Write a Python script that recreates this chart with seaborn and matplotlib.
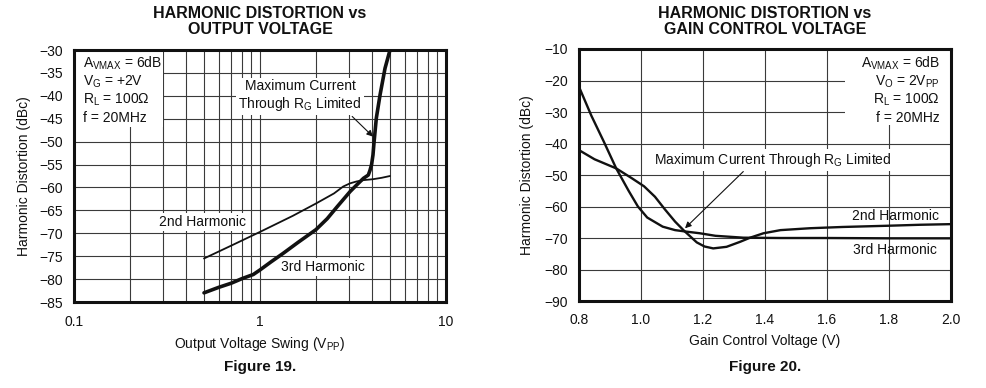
import numpy as np
import pandas as pd
import matplotlib
matplotlib.use("Agg")
import matplotlib.pyplot as plt
from matplotlib.patches import Rectangle
import seaborn as sns
from matplotlib.ticker import FixedLocator, NullFormatter

# ---------------- data: Figure 19 (vs output voltage) ----------------
ov_2nd_v = [0.5, 0.7, 1.0, 1.5, 2.0, 2.5, 2.8, 3.05, 3.3, 3.6, 4.05, 4.5, 5.0]
ov_2nd_d = [-75.5, -72.7, -69.7, -66.2, -63.5, -61.3, -59.8, -59.1, -58.7, -58.4, -58.2, -57.9, -57.5]

ov_3rd_v = [0.5, 0.6, 0.7, 0.8, 0.92, 1.0, 1.15, 1.33, 1.6, 2.0, 2.3, 2.6, 3.05,
            3.3, 3.6, 3.82, 3.9, 3.98, 4.05, 4.1, 4.22, 4.42, 4.7, 5.0]
ov_3rd_d = [-83.0, -81.8, -80.9, -79.9, -79.0, -78.0, -76.2, -74.4, -72.0, -69.2, -66.8, -64.2, -60.9,
            -59.5, -58.0, -57.3, -56.3, -55.0, -52.9, -50.3, -44.9, -39.8, -34.0, -30.0]

ov_xticks = [0.1, 1, 10]
ov_xticklabels = ["0.1", "1", "10"]
ov_yticks = list(range(-85, -29, 5))

# ---------------- data: Figure 20 (vs gain control voltage) ----------------
gc_2nd_v = [0.80, 0.85, 0.92, 0.97, 1.01, 1.045, 1.077, 1.11, 1.14, 1.18, 1.205, 1.233,
            1.276, 1.32, 1.352, 1.395, 1.45, 1.545, 1.65, 1.80, 1.90, 2.00]
gc_2nd_d = [-42.1, -45.0, -47.9, -51.0, -53.6, -56.9, -60.9, -64.8, -67.8, -71.4, -72.7, -73.3,
            -72.8, -71.2, -69.9, -68.5, -67.5, -66.9, -66.5, -66.1, -65.8, -65.6]

gc_3rd_v = [0.80, 0.84, 0.88, 0.92, 0.96, 0.99, 1.02, 1.07, 1.11, 1.14, 1.19, 1.24, 1.33,
            1.45, 1.60, 1.80, 2.00]
gc_3rd_d = [-22.0, -31.2, -39.4, -47.9, -55.0, -60.0, -63.5, -66.4, -67.5, -67.9, -68.5, -69.3, -69.9,
            -70.0, -70.0, -70.1, -70.1]

gc_xticks = [0.8, 1.0, 1.2, 1.4, 1.6, 1.8, 2.0]
gc_yticks = list(range(-90, -9, 10))

# ---------------- style ----------------
sns.set_theme(style="white")
plt.rcParams['font.family'] = ['Liberation Sans', 'DejaVu Sans']
plt.rcParams['axes.unicode_minus'] = True

W, H = 987, 388
fig = plt.figure(figsize=(W / 100, H / 100), dpi=100)


def pos(l, t, r, b):
    return [l / W, 1 - b / H, (r - l) / W, (b - t) / H]


def fx(px):
    return px / W


def fy(py):
    return 1 - py / H


ax1 = fig.add_axes(pos(74, 50, 446, 302))
ax2 = fig.add_axes(pos(579, 49, 951, 301))

INK = '#111111'
GRID = '#3a3a3a'
FS = 10
white_box = dict(facecolor='white', edgecolor='none', pad=1.5)

# ---------- left chart ----------
df_ov2 = pd.DataFrame({'v': ov_2nd_v, 'd': ov_2nd_d})
df_ov3 = pd.DataFrame({'v': ov_3rd_v, 'd': ov_3rd_d})
sns.lineplot(data=df_ov2, x='v', y='d', ax=ax1, color=INK, lw=1.3, sort=False, estimator=None, zorder=5)
sns.lineplot(data=df_ov3, x='v', y='d', ax=ax1, color=INK, lw=2.6, sort=False, estimator=None, zorder=5)
ax1.set_xscale('log')
ax1.set_xlim(0.1, 10)
ax1.set_ylim(-85, -30)
ax1.xaxis.set_major_locator(FixedLocator(ov_xticks))
ax1.set_xticklabels(ov_xticklabels)
ax1.xaxis.set_minor_locator(FixedLocator([k * 0.1 for k in range(2, 10)] + list(range(2, 10))))
ax1.xaxis.set_minor_formatter(NullFormatter())
ax1.set_yticks(ov_yticks)
ax1.grid(True, which='both', color=GRID, lw=0.8)
ax1.set_axisbelow(True)
ax1.tick_params(axis='both', which='both', length=0, labelsize=FS, colors=INK)
ax1.tick_params(axis='y', pad=8)
ax1.tick_params(axis='x', pad=9)
ax1.set_xlabel(r"Output Voltage Swing (V$\mathregular{_{PP}}$)", fontsize=FS, color=INK, labelpad=5)
ax1.set_ylabel("Harmonic Distortion (dBc)", fontsize=FS, color=INK, labelpad=6)

# white box behind condition text (covers grid)
ax1.add_patch(Rectangle((fx(74), fy(127)), fx(163) - fx(74), fy(50) - fy(127),
                        transform=fig.transFigure, facecolor='white', edgecolor='none', zorder=3))
left_cond = ["A$\\mathregular{_{VMAX}}$ = 6dB", "V$\\mathregular{_G}$ = +2V",
             "R$\\mathregular{_L}$ = 100Ω", "f = 20MHz"]
for line, base in zip(left_cond, [68, 86, 104, 122]):
    fig.text(fx(82.7), fy(base), line, ha='left', va='baseline', fontsize=FS, color=INK, zorder=6)

ax1.text(1.64, -40.0, "Maximum Current\nThrough R$\\mathregular{_G}$ Limited",
         ha='center', va='center', fontsize=FS, color=INK, linespacing=1.2,
         bbox=white_box, zorder=4)
ax1.annotate('', xy=(4.05, -48.9), xytext=(3.13, -44.5),
             arrowprops=dict(arrowstyle='-|>', color=INK, lw=0.8, mutation_scale=9,
                             shrinkA=0, shrinkB=0), zorder=6)
ax1.text(0.491, -67.6, "2nd Harmonic", ha='center', va='center', fontsize=FS, color=INK,
         bbox=white_box, zorder=4)
ax1.text(2.17, -77.4, "3rd Harmonic", ha='center', va='center', fontsize=FS, color=INK,
         bbox=white_box, zorder=4)

# ---------- right chart ----------
df_gc2 = pd.DataFrame({'v': gc_2nd_v, 'd': gc_2nd_d})
df_gc3 = pd.DataFrame({'v': gc_3rd_v, 'd': gc_3rd_d})
sns.lineplot(data=df_gc2, x='v', y='d', ax=ax2, color=INK, lw=1.7, sort=False, estimator=None, zorder=5)
sns.lineplot(data=df_gc3, x='v', y='d', ax=ax2, color=INK, lw=1.7, sort=False, estimator=None, zorder=5)
ax2.set_xlim(0.8, 2.0)
ax2.set_ylim(-90, -10)
ax2.set_xticks(gc_xticks)
ax2.set_xticklabels([f"{t:.1f}" for t in gc_xticks])
ax2.set_yticks(gc_yticks)
ax2.grid(True, which='major', color=GRID, lw=0.8)
ax2.set_axisbelow(True)
ax2.tick_params(axis='both', which='both', length=0, labelsize=FS, colors=INK)
ax2.tick_params(axis='y', pad=8)
ax2.tick_params(axis='x', pad=9)
ax2.set_xlabel("Gain Control Voltage (V)", fontsize=FS, color=INK, labelpad=5)
ax2.set_ylabel("Harmonic Distortion (dBc)", fontsize=FS, color=INK, labelpad=7)

ax2.add_patch(Rectangle((fx(845), fy(125)), fx(951) - fx(845), fy(49) - fy(125),
                        transform=fig.transFigure, facecolor='white', edgecolor='none', zorder=3))
right_cond = ["A$\\mathregular{_{VMAX}}$ = 6dB", "V$\\mathregular{_O}$ = 2V$\\mathregular{_{PP}}$",
              "R$\\mathregular{_L}$ = 100Ω", "f = 20MHz"]
for line, base in zip(right_cond, [67.3, 86, 103.7, 121.7]):
    fig.text(fx(940), fy(base), line, ha='right', va='baseline', fontsize=FS, color=INK, zorder=6)

ax2.text(1.426, -45.2, "Maximum Current Through R$\\mathregular{_G}$ Limited",
         ha='center', va='center', fontsize=FS, color=INK, bbox=white_box, zorder=4)
ax2.annotate('', xy=(1.142, -66.9), xytext=(1.33, -48.9),
             arrowprops=dict(arrowstyle='-|>', color=INK, lw=0.8, mutation_scale=9,
                             shrinkA=0, shrinkB=0), zorder=6)
ax2.text(1.96, -63.0, "2nd Harmonic", ha='right', va='center', fontsize=FS, color=INK, zorder=4)
ax2.text(1.955, -73.8, "3rd Harmonic", ha='right', va='center', fontsize=FS, color=INK, zorder=4)

for ax in (ax1, ax2):
    for s in ax.spines.values():
        s.set_linewidth(2.2)
        s.set_color(INK)
        s.set_visible(True)
        s.set_zorder(7)

# ---------- titles and captions ----------
for cx, l1, l2, cap in [(260, "HARMONIC DISTORTION vs", "OUTPUT VOLTAGE", "Figure 19."),
                        (765, "HARMONIC DISTORTION vs", "GAIN CONTROL VOLTAGE", "Figure 20.")]:
    fig.text(fx(cx), fy(13.5), l1, ha='center', va='center', fontsize=11.5, fontweight='bold', color=INK)
    fig.text(fx(cx), fy(29.5), l2, ha='center', va='center', fontsize=11.5, fontweight='bold', color=INK)
    fig.text(fx(cx), fy(366.5), cap, ha='center', va='center', fontsize=11, fontweight='bold', color=INK)

fig.savefig("out.png", dpi=100, facecolor='white')
